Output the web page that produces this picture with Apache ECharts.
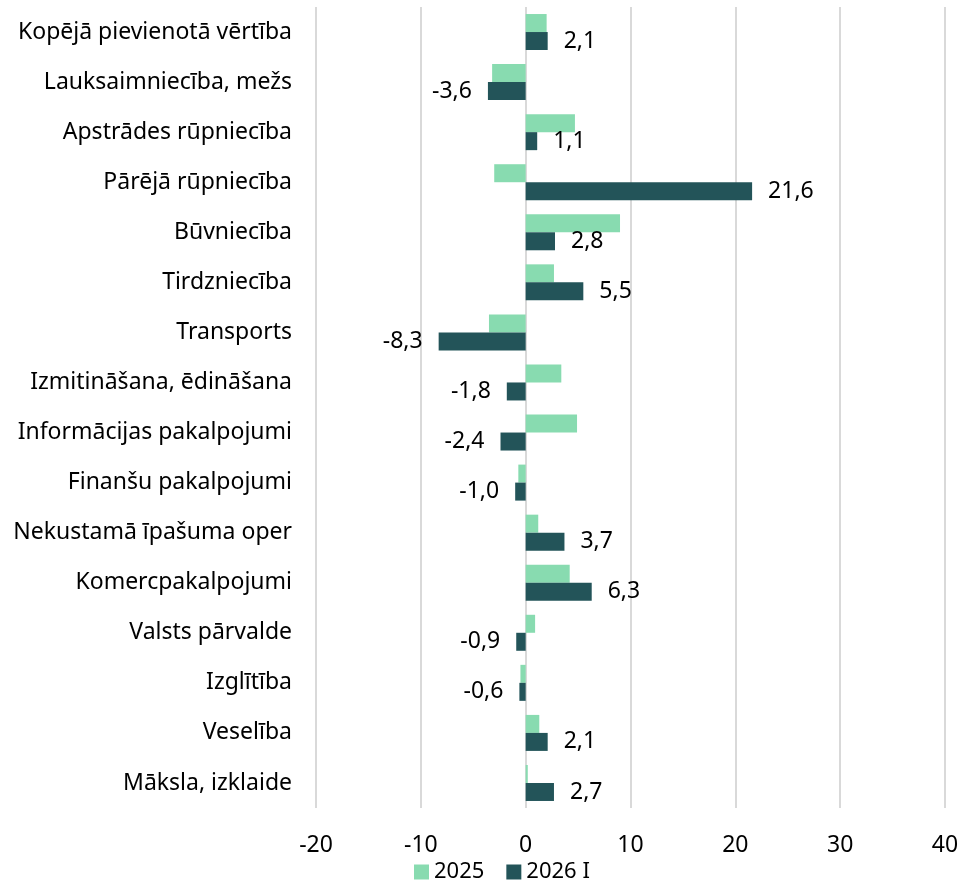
<!doctype html>
<html>
	<head>
		<meta charset="UTF-8">
		<title></title>
		<script src="https://cdn.jsdelivr.net/npm/echarts@6/dist/echarts.min.js"></script>
		<style>
			html, body { margin: 0; padding: 0; background: #fff; }
			#chart { width: 962px; height: 884px; }
		</style>
	</head>
	<body>
		<div id="chart"></div>
		<script>
			// nozares
			var categories = ['Kopējā pievienotā vērtība', 'Lauksaimniecība, mežs', 'Apstrādes rūpniecība', 'Pārējā rūpniecība',
				'Būvniecība', 'Tirdzniecība', 'Transports', 'Izmitināšana, ēdināšana', 'Informācijas pakalpojumi',
				'Finanšu pakalpojumi', 'Nekustamā īpašuma oper', 'Komercpakalpojumi', 'Valsts pārvalde', 'Izglītība',
				'Veselība', 'Māksla, izklaide'];
			var seriesNames = ['2025', '2026 I'];
			var values2025 = [2.0, -3.2, 4.7, -3.0, 9.0, 2.7, -3.5, 3.4, 4.9, -0.7, 1.2, 4.2, 0.9, -0.5, 1.3, 0.2];
			var values2026 = [2.1, -3.6, 1.1, 21.6, 2.8, 5.5, -8.3, -1.8, -2.4, -1.0, 3.7, 6.3, -0.9, -0.6, 2.1, 2.7];
			var xTicks = [-20, -10, 0, 10, 20, 30, 40];

			var font = '"Noto Sans", sans-serif';

			// uzlikt etiķeti pa labi vai pa kreisi
			var data2026 = values2026.map(function(v) {
				return {
					value: v,
					label: { position: v < 0 ? 'left' : 'right' }
				};
			});

			var myChart = echarts.init(document.getElementById('chart'));
			var option = {
				backgroundColor: '#fff',
				animation: false,
				color: ['#88DBB0', '#235459'],
				grid: { left: 316, right: 17, top: 7, bottom: 76, containLabel: false },
				legend: {
					bottom: -4,
					left: 409,
					itemWidth: 15,
					itemHeight: 15,
					itemGap: 22,
					icon: 'rect',
					textStyle: { fontFamily: font, fontSize: 22, color: '#000' },
					data: seriesNames
				},
				xAxis: {
					type: 'value',
					min: xTicks[0],
					max: xTicks[xTicks.length - 1],
					interval: 10,
					axisLine: { show: false },
					axisTick: { show: false },
					splitLine: { lineStyle: { color: '#d9d9d9', width: 2 } },
					axisLabel: { margin: 26, fontFamily: font, fontSize: 23, color: '#000' }
				},
				yAxis: {
					type: 'category',
					inverse: true,
					data: categories,
					axisLine: { show: false },
					axisTick: { show: false },
					axisLabel: { margin: 24, fontFamily: font, fontSize: 23, color: '#000' }
				},
				series: [{
					name: seriesNames[0],
					type: 'bar',
					barWidth: 18,
					barGap: '0%',
					data: values2025
				}, {
					name: seriesNames[1],
					type: 'bar',
					barWidth: 18,
					barGap: '0%',
					data: data2026,
					label: {
						show: true,
						distance: 16,
						fontFamily: font,
						fontSize: 23,
						color: '#000',
						formatter: function(p) {
							return p.value.toFixed(1).replace('.', ',');
						}
					}
				}]
			};
			myChart.setOption(option);
		</script>
	</body>
</html>
